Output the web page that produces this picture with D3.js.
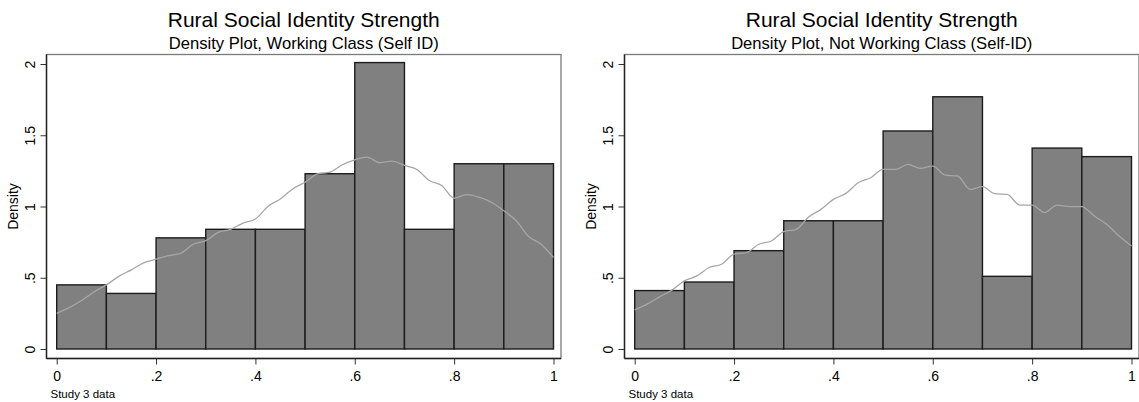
<!DOCTYPE html>
<html>
<head>
<meta charset="utf-8">
<script src="https://cdn.jsdelivr.net/npm/d3@7"></script>
<style>
  body { margin: 0; background: #fff; }
  text { font-family: "Liberation Sans", Arial, sans-serif; fill: #000; }
</style>
</head>
<body>
<svg id="chart" width="1139" height="402"></svg>
<script>
// histogram bins (lower edges, width .1)
var binStarts = [0, 0.1, 0.2, 0.3, 0.4, 0.5, 0.6, 0.7, 0.8, 0.9];
var workingDensity = [0.45, 0.39, 0.78, 0.84, 0.84, 1.23, 2.01, 0.84, 1.30, 1.30];
var notWorkingDensity = [0.41, 0.47, 0.69, 0.90, 0.90, 1.53, 1.77, 0.51, 1.41, 1.35];

// kernel density line, read at steps of .025
var kdeX = [0, 0.025, 0.05, 0.075, 0.1, 0.125, 0.15, 0.175, 0.2, 0.225,
            0.25, 0.275, 0.3, 0.325, 0.35, 0.375, 0.4, 0.425, 0.45, 0.475,
            0.5, 0.525, 0.55, 0.575, 0.6, 0.625, 0.65, 0.675, 0.7, 0.725,
            0.75, 0.775, 0.8, 0.825, 0.85, 0.875, 0.9, 0.925, 0.95, 0.975, 1];
var workingKde = [0.25, 0.29, 0.34, 0.40, 0.45, 0.51, 0.555, 0.605, 0.63, 0.655,
                  0.672, 0.735, 0.76, 0.818, 0.84, 0.884, 0.912, 1.0, 1.053, 1.123,
                  1.17, 1.229, 1.241, 1.293, 1.328, 1.347, 1.307, 1.318, 1.288, 1.26,
                  1.182, 1.147, 1.058, 1.083, 1.065, 1.03, 0.97, 0.9, 0.79, 0.735, 0.642];
var notWorkingKde = [0.275, 0.315, 0.366, 0.413, 0.478, 0.513, 0.572, 0.595, 0.665, 0.677,
                     0.735, 0.758, 0.824, 0.84, 0.926, 0.98, 1.05, 1.092, 1.167, 1.202,
                     1.26, 1.26, 1.295, 1.267, 1.284, 1.22, 1.214, 1.12, 1.139, 1.09,
                     1.085, 1.01, 1.01, 0.957, 1.01, 0.999, 0.999, 0.934, 0.875, 0.793, 0.723];

var xTicks = [0, 0.2, 0.4, 0.6, 0.8, 1];
var yTicks = [0, 0.5, 1, 1.5, 2];
var mainTitle = "Rural Social Identity Strength";
var subTitles = ["Density Plot, Working Class (Self ID)", "Density Plot, Not Working Class (Self-ID)"];
var yLabel = "Density";
var note = "Study 3 data";

var svg = d3.select('#chart');

// Stata style labels: .2 instead of 0.2
function stataFmt(d) {
    return d === 0 ? "0" : String(d).replace(/^0\./, ".");
}

function drawPanel(left, subtitle, density, kde) {
    var frameW = 514.5,
        top = 54.5,
        bottom = 358.5;

    var g = svg.append('g').attr('transform', 'translate(' + left + ',0)');

    var x = d3.scaleLinear().domain([0, 1]).range([10.2, 507]);
    var y = d3.scaleLinear().domain([0, 2]).range([349, 64]);

    // plot region frame
    g.append('rect')
        .attr('x', 0).attr('y', top)
        .attr('width', frameW).attr('height', bottom - top)
        .attr('fill', 'none')
        .attr('stroke', '#7a7a7a')
        .attr('stroke-width', 1.3);

    // bars
    g.selectAll('.bar')
        .data(binStarts.map((b, i) => ({ b: b, v: density[i] })))
        .enter()
        .append('rect')
        .attr('class', 'bar')
        .attr('x', d => x(d.b))
        .attr('width', d => x(d.b + 0.1) - x(d.b))
        .attr('y', d => y(d.v))
        .attr('height', d => y(0) - y(d.v))
        .attr('fill', '#808080')
        .attr('stroke', '#1c1c1c')
        .attr('stroke-width', 1.4);

    // density line
    var line = d3.line()
        .x((d, i) => x(kdeX[i]))
        .y(d => y(d))
        .curve(d3.curveMonotoneX);

    g.append('path')
        .datum(kde)
        .attr('d', line)
        .attr('fill', 'none')
        .attr('stroke', '#a6a6a6')
        .attr('stroke-width', 1.3);

    // axes
    var yAxis = g.append('g')
        .call(d3.axisLeft(y).tickValues(yTicks).tickFormat(stataFmt).tickSize(6).tickSizeOuter(0));
    yAxis.select('.domain').remove();
    yAxis.selectAll('line').attr('stroke', '#333');
    yAxis.selectAll('text')
        .attr('transform', 'rotate(-90)')
        .attr('x', 0)
        .attr('y', -11.5)
        .attr('dy', 0)
        .attr('text-anchor', 'middle')
        .style('font-size', '14px')
        .style('font-family', '"Liberation Sans", Arial, sans-serif');

    var xAxis = g.append('g')
        .attr('transform', 'translate(0,' + bottom + ')')
        .call(d3.axisBottom(x).tickValues(xTicks).tickFormat(stataFmt).tickSize(6).tickPadding(7).tickSizeOuter(0));
    xAxis.select('.domain').remove();
    xAxis.selectAll('line').attr('stroke', '#333');
    xAxis.selectAll('text')
        .style('font-size', '14px')
        .style('font-family', '"Liberation Sans", Arial, sans-serif');

    // axis lines along the frame
    g.append('line')
        .attr('x1', 0).attr('x2', 0)
        .attr('y1', top).attr('y2', bottom)
        .attr('stroke', '#222').attr('stroke-width', 1.4);
    g.append('line')
        .attr('x1', 0).attr('x2', frameW)
        .attr('y1', bottom).attr('y2', bottom)
        .attr('stroke', '#222').attr('stroke-width', 1.4);

    // titles
    g.append('text')
        .attr('x', frameW / 2).attr('y', 27)
        .attr('text-anchor', 'middle')
        .style('font-size', '21px')
        .text(mainTitle);

    g.append('text')
        .attr('x', frameW / 2).attr('y', 49)
        .attr('text-anchor', 'middle')
        .style('font-size', '16.6px')
        .text(subtitle);

    // y axis title
    g.append('text')
        .attr('transform', 'translate(-29,' + (y(0) + y(2)) / 2 + ') rotate(-90)')
        .attr('text-anchor', 'middle')
        .style('font-size', '14px')
        .text(yLabel);

    // note
    g.append('text')
        .attr('x', 4).attr('y', 398)
        .style('font-size', '11.5px')
        .text(note);
}

drawPanel(46.5, subTitles[0], workingDensity, workingKde);
drawPanel(624.5, subTitles[1], notWorkingDensity, notWorkingKde);
</script>
</body>
</html>
